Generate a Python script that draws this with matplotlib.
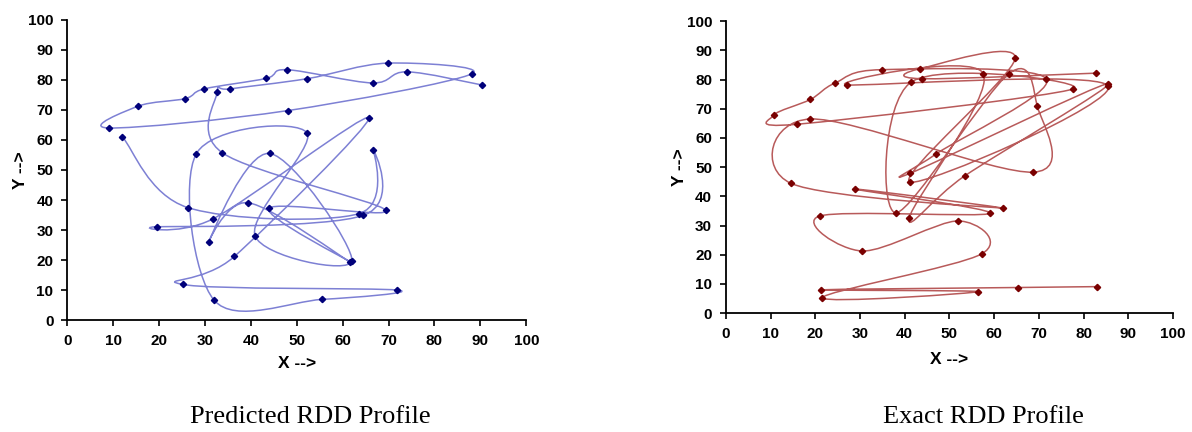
import numpy as np
import matplotlib
matplotlib.use("Agg")
import matplotlib.pyplot as plt
from matplotlib.path import Path
from matplotlib.patches import PathPatch

# Predicted RDD profile (points in visiting order)
pred_x = [12.0, 26.2, 63.6, 66.7, 64.5, 19.5, 31.7, 65.7, 36.4, 25.1, 71.9, 55.5, 32.0,
          28.1, 52.2, 40.9, 62.0, 44.1, 30.8, 39.4, 61.5, 43.9, 69.4, 33.8, 32.7, 35.4,
          52.2, 69.9, 88.1, 48.1, 9.0, 15.5, 25.7, 29.8, 43.3, 47.9, 66.5, 74.0, 90.4]
pred_y = [61.0, 37.5, 35.5, 56.7, 34.9, 31.1, 33.7, 67.4, 21.2, 11.9, 10.0, 6.9, 6.6,
          55.4, 62.4, 28.1, 19.7, 55.5, 26.0, 39.1, 19.5, 37.2, 36.6, 55.7, 76.1, 77.0,
          80.4, 85.6, 82.0, 69.8, 64.0, 71.3, 73.8, 77.0, 80.5, 83.4, 79.0, 82.7, 78.3]

# Exact RDD profile
exact_x = [82.8, 43.8, 43.4, 64.7, 41.2, 85.5, 27.0, 57.6, 41.0, 53.5, 85.5, 41.2, 47.1,
           71.7, 35.0, 24.4, 18.9, 10.8, 15.9, 77.7, 41.4, 38.1, 63.3, 69.6, 68.8, 18.9,
           14.5, 61.9, 28.9, 59.1, 21.0, 30.5, 52.0, 57.2, 21.6, 56.5, 21.2, 65.4, 83.1]
exact_y = [82.2, 80.3, 83.7, 87.3, 44.9, 77.8, 78.2, 82.0, 32.6, 47.1, 78.6, 47.9, 54.6,
           80.2, 83.4, 78.8, 73.2, 67.9, 64.7, 76.8, 79.1, 34.4, 82.0, 71.1, 48.3, 66.5,
           44.5, 36.0, 42.5, 34.2, 33.3, 21.3, 31.6, 20.3, 5.3, 7.4, 8.0, 8.8, 9.1]

TICKS = list(range(0, 101, 10))


def smooth_path(xs, ys):
    # Excel-style smoothed line: cubic Bezier segments through every point
    p = np.column_stack([xs, ys])
    verts = [p[0]]
    codes = [Path.MOVETO]
    n = len(p)
    for i in range(n - 1):
        p0 = p[i - 1] if i > 0 else p[i]
        p1, p2 = p[i], p[i + 1]
        p3 = p[i + 2] if i + 2 < n else p[i + 1]
        verts += [p1 + (p2 - p0) / 6.0, p2 - (p3 - p1) / 6.0, p2]
        codes += [Path.CURVE4] * 3
    return Path(verts, codes)


def draw(ax, xs, ys, line_col, mark_col, xpad):
    ax.add_patch(PathPatch(smooth_path(xs, ys), facecolor="none",
                           edgecolor=line_col, lw=1.1))
    ax.plot(xs, ys, ls="none", marker="D", ms=3.2, color=mark_col)
    ax.set_xlim(0, 100)
    ax.set_ylim(0, 100)
    ax.set_xticks(TICKS)
    ax.set_yticks(TICKS)
    for s in ["top", "right"]:
        ax.spines[s].set_visible(False)
    for s in ["left", "bottom"]:
        ax.spines[s].set_linewidth(1.3)
    ax.tick_params(direction="out", length=4, width=1.2, labelsize=11, pad=6)
    for lab in ax.get_xticklabels() + ax.get_yticklabels():
        lab.set_fontweight("bold")
        lab.set_family("Liberation Sans")
    ax.set_xlabel("X -->", fontsize=12.5, fontweight="bold", family="Liberation Sans", labelpad=xpad)
    ax.set_ylabel("Y -->", fontsize=12.5, fontweight="bold", family="Liberation Sans", labelpad=0)


fig = plt.figure(figsize=(11.92, 4.32), dpi=100)
ax1 = fig.add_axes([0.0565, 0.259, 0.385, 0.695])
ax2 = fig.add_axes([0.609, 0.275, 0.375, 0.676])

draw(ax1, pred_x, pred_y, "#7d80d4", "#00007a", 6)
draw(ax2, exact_x, exact_y, "#b85a5a", "#7a0000", 8)

fig.text(0.26, 0.035, "Predicted RDD Profile", ha="center", va="center",
         fontsize=19, family="Liberation Serif")
fig.text(0.825, 0.035, "Exact RDD Profile", ha="center", va="center",
         fontsize=19, family="Liberation Serif")

fig.savefig("out.png", dpi=100)
